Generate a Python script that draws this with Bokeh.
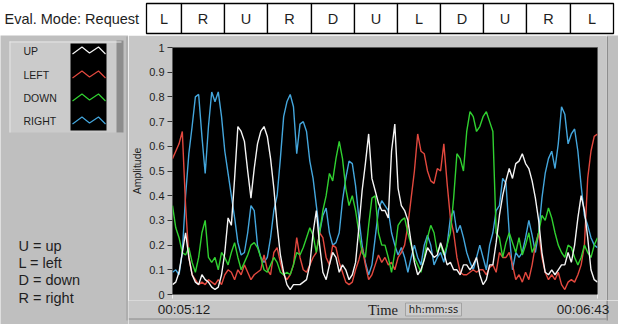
import numpy as np
from bokeh.plotting import figure
from bokeh.models import Range1d, FixedTicker
from bokeh.layouts import column, row
from bokeh.embed import file_html
from bokeh.resources import INLINE
from bokeh.core.properties import value

# ---------------- data ----------------
t_start_s = 312          # 00:05:12
t_end_s = 403            # 00:06:43
x_tick_labels = ["00:05:12", "00:06:43"]
y_ticks = [0, 0.1, 0.2, 0.3, 0.4, 0.5, 0.6, 0.7, 0.8, 0.9, 1]
y_tick_labels = ["0", "0.1", "0.2", "0.3", "0.4", "0.5", "0.6", "0.7", "0.8", "0.9", "1"]

request_sequence = ["L", "R", "U", "R", "D", "U", "L", "D", "U", "R", "L"]
series_names = ["UP", "LEFT", "DOWN", "RIGHT"]
key_lines = ["U = up", "L = left", "D = down", "R = right"]

up = [0.04, 0.05, 0.09, 0.17, 0.25, 0.15, 0.08, 0.05, 0.04, 0.08, 0.06, 0.05, 0.03, 0.02, 0.03, 0.08,
      0.17, 0.31, 0.28, 0.47, 0.68, 0.66, 0.62, 0.50, 0.39, 0.51, 0.61, 0.66, 0.68, 0.64, 0.55, 0.43,
      0.28, 0.16, 0.09, 0.04, 0.02, 0.04, 0.04, 0.04, 0.05, 0.06, 0.12, 0.25, 0.34, 0.20, 0.09, 0.06,
      0.12, 0.17, 0.15, 0.09, 0.12, 0.10, 0.06, 0.08, 0.13, 0.27, 0.42, 0.53, 0.65, 0.47, 0.42, 0.37, 0.34,
      0.34, 0.31, 0.58, 0.69, 0.43, 0.36, 0.34, 0.30, 0.21, 0.13, 0.08, 0.10, 0.14, 0.19, 0.17, 0.15,
      0.16, 0.21, 0.17, 0.12, 0.13, 0.10, 0.10, 0.08, 0.12, 0.12, 0.10, 0.12, 0.15, 0.08, 0.04, 0.06, 0.12,
      0.12, 0.21, 0.32, 0.40, 0.46, 0.51, 0.47, 0.53, 0.54, 0.57, 0.53, 0.51, 0.46, 0.39, 0.30, 0.17,
      0.09, 0.08, 0.10, 0.08, 0.10, 0.12, 0.12, 0.17, 0.13, 0.20, 0.31, 0.40, 0.34, 0.23, 0.10, 0.06, 0.05]

left = [0.55, 0.58, 0.61, 0.66, 0.36, 0.15, 0.08, 0.06, 0.04, 0.05, 0.04, 0.06, 0.05, 0.04, 0.06, 0.04,
        0.08, 0.10, 0.09, 0.06, 0.10, 0.08, 0.12, 0.09, 0.06, 0.08, 0.09, 0.10, 0.16, 0.10, 0.08, 0.17,
        0.19, 0.13, 0.08, 0.06, 0.08, 0.12, 0.23, 0.15, 0.10, 0.09, 0.12, 0.15, 0.17, 0.25, 0.23, 0.15,
        0.12, 0.20, 0.19, 0.13, 0.09, 0.05, 0.04, 0.05, 0.10, 0.14, 0.19, 0.12, 0.06, 0.08, 0.12, 0.16, 0.13,
        0.15, 0.12, 0.13, 0.10, 0.15, 0.17, 0.20, 0.28, 0.39, 0.50, 0.65, 0.58, 0.57, 0.50, 0.46, 0.45,
        0.51, 0.50, 0.61, 0.45, 0.31, 0.25, 0.15, 0.09, 0.08, 0.08, 0.09, 0.10, 0.09, 0.10, 0.10, 0.08, 0.11,
        0.12, 0.09, 0.17, 0.15, 0.15, 0.17, 0.12, 0.06, 0.08, 0.05, 0.09, 0.06, 0.12, 0.20, 0.25, 0.15,
        0.09, 0.06, 0.08, 0.06, 0.09, 0.04, 0.02, 0.05, 0.06, 0.05, 0.08, 0.12, 0.20, 0.47, 0.58, 0.64, 0.65]

down = [0.36, 0.27, 0.23, 0.17, 0.16, 0.19, 0.13, 0.09, 0.15, 0.25, 0.30, 0.15, 0.13, 0.15, 0.10, 0.17,
        0.15, 0.12, 0.17, 0.21, 0.15, 0.10, 0.13, 0.16, 0.20, 0.21, 0.19, 0.15, 0.10, 0.09, 0.12, 0.15,
        0.13, 0.09, 0.08, 0.09, 0.08, 0.12, 0.17, 0.16, 0.19, 0.23, 0.27, 0.24, 0.17, 0.25, 0.34, 0.40,
        0.49, 0.46, 0.55, 0.62, 0.55, 0.43, 0.36, 0.40, 0.34, 0.25, 0.17, 0.15, 0.28, 0.39, 0.40, 0.25, 0.20,
        0.20, 0.15, 0.09, 0.17, 0.28, 0.30, 0.31, 0.25, 0.20, 0.15, 0.12, 0.09, 0.15, 0.23, 0.28, 0.25,
        0.17, 0.20, 0.16, 0.20, 0.25, 0.39, 0.57, 0.55, 0.50, 0.66, 0.74, 0.72, 0.66, 0.68, 0.72, 0.74, 0.70,
        0.66, 0.25, 0.23, 0.15, 0.21, 0.25, 0.21, 0.17, 0.23, 0.16, 0.20, 0.25, 0.17, 0.20, 0.25, 0.32,
        0.30, 0.35, 0.31, 0.25, 0.20, 0.17, 0.15, 0.20, 0.19, 0.15, 0.12, 0.15, 0.20, 0.17, 0.15, 0.20, 0.23]

right = [0.09, 0.10, 0.08, 0.17, 0.40, 0.57, 0.68, 0.80, 0.81, 0.64, 0.49, 0.68, 0.82, 0.78, 0.82, 0.72,
         0.58, 0.49, 0.40, 0.31, 0.21, 0.16, 0.17, 0.25, 0.36, 0.34, 0.20, 0.15, 0.13, 0.15, 0.23, 0.34,
         0.40, 0.55, 0.72, 0.78, 0.81, 0.76, 0.57, 0.69, 0.70, 0.66, 0.54, 0.47, 0.36, 0.25, 0.32, 0.35,
         0.25, 0.20, 0.21, 0.25, 0.38, 0.47, 0.54, 0.53, 0.44, 0.31, 0.20, 0.13, 0.08, 0.12, 0.23, 0.34, 0.38,
         0.36, 0.34, 0.25, 0.20, 0.16, 0.19, 0.15, 0.09, 0.15, 0.20, 0.15, 0.12, 0.20, 0.24, 0.20, 0.12,
         0.15, 0.17, 0.13, 0.20, 0.31, 0.34, 0.25, 0.28, 0.23, 0.17, 0.13, 0.10, 0.15, 0.20, 0.15, 0.10, 0.20,
         0.25, 0.34, 0.36, 0.47, 0.45, 0.25, 0.10, 0.17, 0.15, 0.17, 0.23, 0.30, 0.24, 0.17, 0.25, 0.39,
         0.49, 0.55, 0.58, 0.51, 0.61, 0.76, 0.73, 0.61, 0.65, 0.67, 0.58, 0.44, 0.32, 0.28, 0.23, 0.20, 0.19]

# evenly spaced sample times of the recording (seconds)
time_s = np.linspace(t_start_s, t_end_s, len(up))

# ---------------- styles / layout ----------------
COLORS = {"UP": "#f4f4f4", "LEFT": "#e2483e", "DOWN": "#30d030", "RIGHT": "#44a6dc"}
SERIES = {"UP": up, "LEFT": left, "DOWN": down, "RIGHT": right}
DRAW_ORDER = ["RIGHT", "LEFT", "DOWN", "UP"]
PANEL = "#c7c7c7"
LEFT_BG = "#bfbfbf"
TXT = "#1e1e1e"
SANS = "Liberation Sans"


def deco_fig(w, h, x0, x1, y0, y1, bg):
    f = figure(width=w, height=h, x_range=Range1d(x0, x1), y_range=Range1d(y1, y0),
               output_backend="svg", toolbar_location=None,
               x_axis_location=None, y_axis_location=None, min_border=0,
               background_fill_color=bg, border_fill_color=bg)
    f.grid.visible = False
    f.outline_line_color = None
    return f


# ---- header ----
header = deco_fig(618, 35, 0, 618, 0, 35, "white")
header.text(x=[4], y=[18.5], text=["Eval. Mode: Request"], text_align="left",
            text_baseline="middle", text_font=value(SANS), text_font_size=value("14.5px"),
            text_color=TXT)
box_edges = [146, 181, 224, 267, 311, 354, 397, 440, 483, 526, 570, 613]
header.quad(left=box_edges[:-1], right=box_edges[1:], top=3, bottom=33,
            fill_color="white", line_color="black", line_width=1.3)
centers = [(a + b) / 2 for a, b in zip(box_edges[:-1], box_edges[1:])]
header.text(x=centers, y=[18.5] * len(centers), text=request_sequence, text_align="center",
            text_baseline="middle", text_font=value(SANS), text_font_size=value("14.5px"),
            text_color=TXT)

# ---- left panel (legend + key), full height ----
leftp = deco_fig(128, 289, 0, 128, 35, 324, LEFT_BG)
leftp.quad(left=9, right=121, top=41, bottom=132, fill_color="#cbcbcb", line_color=None)
leftp.quad(left=116, right=123, top=40, bottom=132, fill_color="#8d8d8d", line_color=None)
leftp.line([9, 121], [41.5, 41.5], line_color="#e6e6e6", line_width=1)
leftp.line([9.5, 9.5], [41, 132], line_color="#e6e6e6", line_width=1)
leftp.quad(left=70, right=106, top=43, bottom=130, fill_color="black", line_color=None)
row_y = [50, 74, 97, 120]
zig_dx = [72, 81.5, 89, 98, 105]
zig_dy = [3.5, -3.5, 2.5, -3.5, 3.5]
for name, cy in zip(series_names, row_y):
    leftp.line(zig_dx, [cy + d for d in zig_dy], line_color=COLORS[name], line_width=1.2)
leftp.text(x=[23] * 4, y=row_y, text=series_names, text_align="left", text_baseline="middle",
           text_font=value(SANS), text_font_size=value("10.5px"), text_color=TXT)
leftp.text(x=[18] * 4, y=[245, 262.5, 279.5, 297], text=key_lines, text_align="left",
           text_baseline="middle", text_font=value(SANS), text_font_size=value("14.5px"),
           text_color=TXT)
leftp.line([126.5, 126.5], [36, 320], line_color="#a9a9a9", line_width=1.5)

# ---- main chart (page y 35..300, frame 168..597 x 47..294) ----
main = figure(width=478, height=265, x_range=Range1d(t_start_s, t_end_s), y_range=Range1d(0, 1),
              output_backend="svg", toolbar_location=None,
              min_border_left=40, min_border_right=9, min_border_top=12, min_border_bottom=6,
              background_fill_color="black", border_fill_color=PANEL)
main.grid.visible = False
main.outline_line_color = "#5a5a5a"
for name in DRAW_ORDER:
    main.line(time_s, SERIES[name], line_color=COLORS[name], line_width=1.4)

yax = main.yaxis[0]
yax.ticker = FixedTicker(ticks=y_ticks)
yax.major_label_overrides = dict(zip(y_ticks, y_tick_labels))
yax.major_label_text_font = SANS
yax.major_label_text_font_size = "11px"
yax.major_label_text_color = TXT
yax.major_label_standoff = 3
yax.major_tick_out = 5
yax.major_tick_in = 0
yax.major_tick_line_color = "#333333"
yax.minor_tick_line_color = None
yax.axis_line_color = None
yax.axis_label = "Amplitude"
yax.axis_label_text_font = SANS
yax.axis_label_text_font_size = "10.5px"
yax.axis_label_text_font_style = "normal"
yax.axis_label_text_color = TXT
yax.axis_label_standoff = 3

xax = main.xaxis[0]
xax.ticker = FixedTicker(ticks=[t_start_s, t_end_s])
xax.major_label_overrides = {t_start_s: "", t_end_s: ""}
xax.major_label_text_font_size = "0px"
xax.major_label_standoff = 0
xax.major_tick_out = 4
xax.major_tick_in = 0
xax.major_tick_line_color = "#eeeeee"
xax.minor_tick_line_color = None
xax.axis_line_color = None

# ---- right edge strip beside the chart ----
edge = deco_fig(12, 265, 606, 618, 35, 300, LEFT_BG)
edge.quad(left=606, right=607.5, top=36, bottom=300, fill_color="#8e8e8e", line_color=None)

# ---- bottom strip (page x 128..618, y 300..324) with the time-axis texts ----
bottom = deco_fig(490, 24, 128, 618, 300, 324, LEFT_BG)
bottom.quad(left=128, right=606, top=300, bottom=318, fill_color=PANEL, line_color=None)
bottom.quad(left=606, right=607.5, top=300, bottom=320, fill_color="#8e8e8e", line_color=None)
bottom.text(x=[183.5, 582.5], y=[309, 309], text=x_tick_labels, text_align="center",
            text_baseline="middle", text_font=value(SANS), text_font_size=value("13.5px"),
            text_color=TXT)
bottom.text(x=[382.5], y=[309], text=["Time"], text_align="center", text_baseline="middle",
            text_font=value("Liberation Serif"), text_font_size=value("14.5px"), text_color=TXT)
bottom.quad(left=405, right=461, top=302.5, bottom=315.5, fill_color="#cdcdcd",
            line_color="#a2a2a2", line_width=1)
bottom.text(x=[433], y=[309], text=["hh:mm:ss"], text_align="center", text_baseline="middle",
            text_font=value("DejaVu Sans"), text_font_size=value("10px"), text_color=TXT)
bottom.line([128, 606], [318.5, 318.5], line_color="#8e8e8e", line_width=1.2)

layout = column(header, row(leftp, column(row(column(main), edge), bottom)))

open("out.html", "w").write(file_html(layout, INLINE))
